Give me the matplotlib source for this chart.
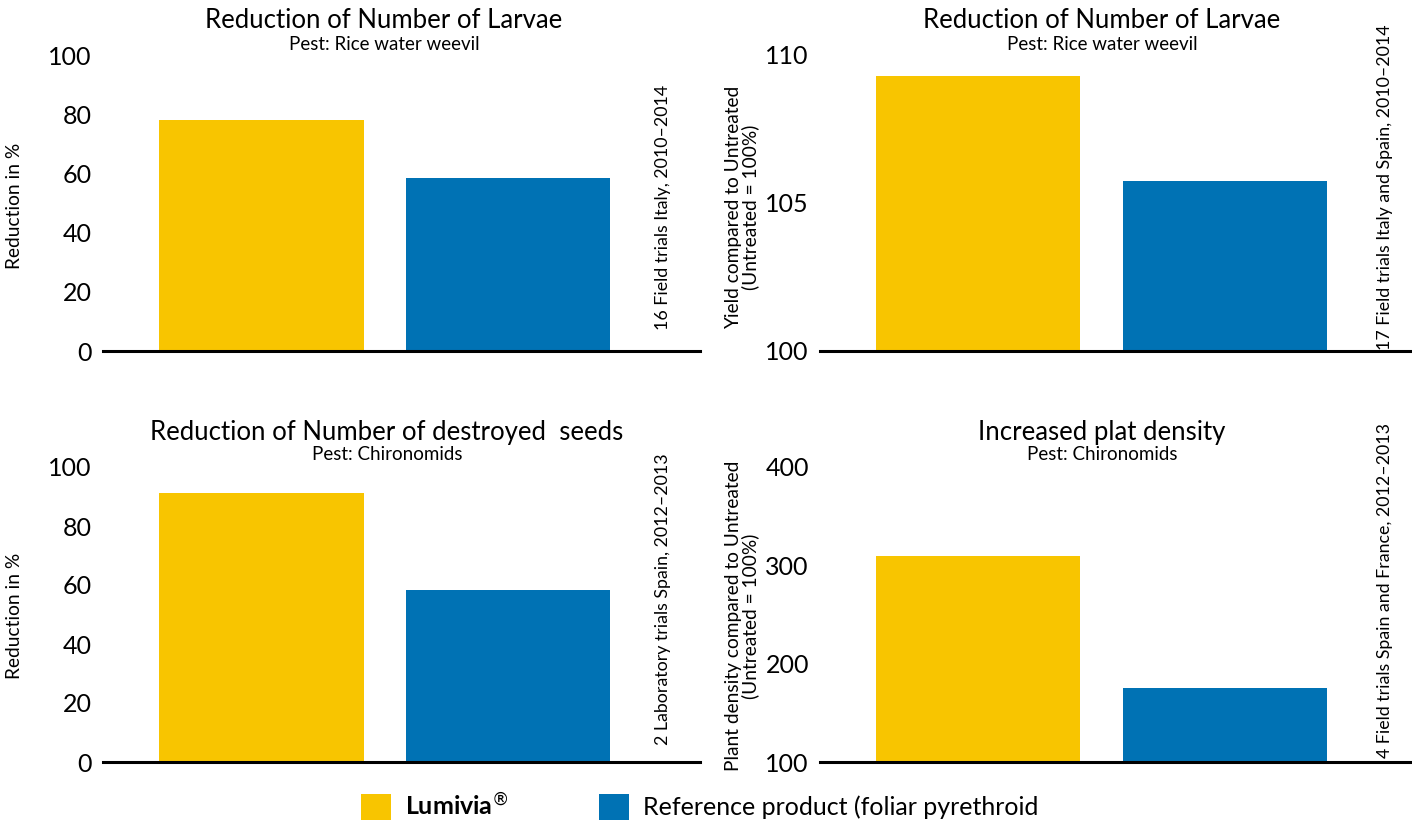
import matplotlib
matplotlib.use('Agg')
from matplotlib import pyplot as plt
from matplotlib.patches import Patch

plt.rcParams['font.family'] = ['Lato', 'DejaVu Sans']

# data
products = ['Lumivia$^{\\circledR}$', 'Reference product (foliar pyrethroid']
colors = ['#F8C500', '#0072B4']

larvae_reduction = [78, 58.4]        # % reduction, rice water weevil
larvae_yield = [109.3, 105.75]       # yield vs untreated (%)
seeds_reduction = [91.2, 58.3]       # % reduction, chironomids
plant_density = [309.5, 175.3]       # plant density vs untreated (%)

titles = ['Reduction of Number of Larvae', 'Reduction of Number of Larvae',
          'Reduction of Number of destroyed  seeds', 'Increased plat density']
subtitles = ['Pest: Rice water weevil', 'Pest: Rice water weevil',
             'Pest: Chironomids', 'Pest: Chironomids']
ylabels = ['Reduction in %', 'Yield compared to Untreated\n(Untreated = 100%)',
           'Reduction in %', 'Plant density compared to Untreated\n(Untreated = 100%)']
notes = ['16 Field trials Italy, 2010\u20132014',
         '17 Field trials Italy and Spain, 2010\u20132014',
         '2 Laboratory trials Spain, 2012\u20132013',
         '4 Field trials Spain and France, 2012\u20132013']
yticks = [[0, 20, 40, 60, 80, 100], [100, 105, 110],
          [0, 20, 40, 60, 80, 100], [100, 200, 300, 400]]
values = [larvae_reduction, larvae_yield, seeds_reduction, plant_density]

W, H = 1412, 825
fig = plt.figure(figsize=(W / 100, H / 100), dpi=100)

# panel layout in pixels: (left, right, top, bottom)
boxes = [(103, 700, 55, 351), (820, 1412, 55, 351),
         (103, 700, 467, 762), (820, 1412, 467, 762)]
xlims = [(-0.643, 1.779), (-0.638, 1.754), (-0.643, 1.779), (-0.638, 1.754)]
widths = [0.83, 0.824, 0.83, 0.824]
title_pos = [(384, 20, 44), (1102, 20, 44), (387, 432, 455), (1102, 432, 455)]
ylabel_x = [15, 742, 15, 742]
ylabel_y = [206, 207, 616, 616]
note_pos = [(663, 330), (1385, 350), (663, 745), (1385, 758)]

for i in range(4):
    l, r, t, b = boxes[i]
    ax = fig.add_axes([l / W, 1 - b / H, (r - l) / W, (b - t) / H])
    base = yticks[i][0]
    ax.bar([0, 1], [v - base for v in values[i]], bottom=base,
           width=widths[i], color=colors)
    ax.set_ylim(yticks[i][0], yticks[i][-1])
    ax.set_xlim(*xlims[i])
    ax.set_yticks(yticks[i])
    ax.set_xticks([])
    ax.tick_params(axis='y', length=0, labelsize=18, pad=8)
    for s in ['top', 'right', 'left']:
        ax.spines[s].set_visible(False)
    ax.spines['bottom'].set_linewidth(2.2)
    ax.spines['bottom'].set_zorder(5)

    cx, ty, sy = title_pos[i]
    fig.text(cx / W, 1 - ty / H, titles[i], ha='center', va='center', fontsize=18.5)
    fig.text(cx / W, 1 - sy / H, subtitles[i], ha='center', va='center', fontsize=13.5)
    fig.text(ylabel_x[i] / W, 1 - ylabel_y[i] / H, ylabels[i], rotation=90,
             ha='center', va='center', fontsize=13.8, linespacing=1.0)
    nx, ny = note_pos[i]
    fig.text(nx / W, 1 - ny / H, notes[i], rotation=90, ha='center',
             va='bottom', fontsize=12.8)

handles = [Patch(facecolor=c) for c in colors]
leg = fig.legend(handles, products, loc='center', bbox_to_anchor=(0.4955, 1 - 806 / H),
                 ncol=2, frameon=False, fontsize=18, handlelength=1.2,
                 handleheight=1.2, handletextpad=0.56, columnspacing=3.6)
leg.get_texts()[0].set_fontweight('bold')

fig.savefig('out.png', dpi=100)
